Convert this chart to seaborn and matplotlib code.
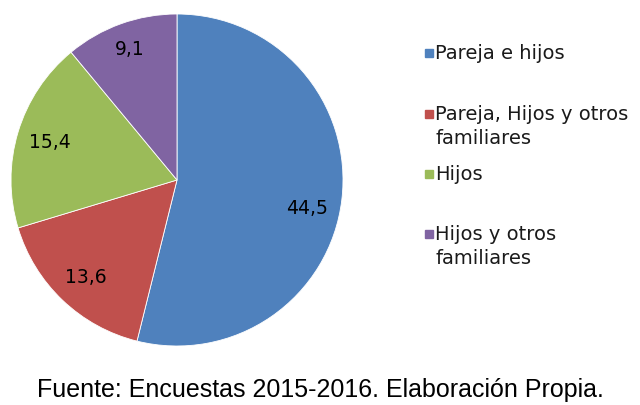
import matplotlib
matplotlib.use("Agg")
import matplotlib.pyplot as plt
import matplotlib.patches as mpatches
import numpy as np
import seaborn as sns

# datos del gráfico
categorias = ["Pareja e hijos", "Pareja, Hijos y otros\nfamiliares", "Hijos", "Hijos y otros\nfamiliares"]
valores = [44.5, 13.6, 15.4, 9.1]
colores = ["#4F81BD", "#C0504D", "#9BBB59", "#8064A2"]
fuente = "Fuente: Encuestas 2015-2016. Elaboración Propia."

sns.set_style("white")
plt.rcParams['font.family'] = ['DejaVu Sans']

fig = plt.figure(figsize=(6.4, 4.06), dpi=100)
# centro (177,181) px, radio 166 px
ax = fig.add_axes([11 / 640, 59 / 406, 332 / 640, 332 / 406])

def etiqueta(pct):
    v = pct * sum(valores) / 100
    return f"{v:.1f}".replace('.', ',')

wedges, _, autotexts = ax.pie(valores, colors=colores, startangle=90, counterclock=False,
                              autopct=etiqueta, pctdistance=0.8, radius=1,
                              wedgeprops=dict(edgecolor='white', linewidth=0.6),
                              textprops=dict(fontsize=13.5, color='black'))

# la etiqueta grande va un poco más abajo, como en el original
x, y = autotexts[0].get_position()
ang = np.arctan2(y, x) - np.radians(5)
r = np.hypot(x, y)
autotexts[0].set_position((r * np.cos(ang), r * np.sin(ang)))
x, y = autotexts[3].get_position()
autotexts[3].set_position((x * 1.05, y * 1.05))

ax.set_xlim(-1, 1)
ax.set_ylim(-1, 1)
ax.set_aspect('equal')

# leyenda manual (espaciado irregular como en el original)
ys = [54, 115, 175, 235]
for lab, col, y in zip(categorias, colores, ys):
    fy = 1 - y / 406
    fig.patches.append(mpatches.Rectangle((425 / 640, fy - 4 / 406), 8 / 640, 8 / 406,
                                          transform=fig.transFigure, color=col))
    fig.text(435 / 640, fy + 10 / 406, lab, fontsize=14, va='top', ha='left',
             linespacing=1.3, color='#1a1a1a')

fig.text(320 / 640, 1 - 390 / 406, fuente, fontsize=18, ha='center', va='center',
         family=['Liberation Sans', 'DejaVu Sans'], color='black')

fig.savefig("out.png", dpi=100)
